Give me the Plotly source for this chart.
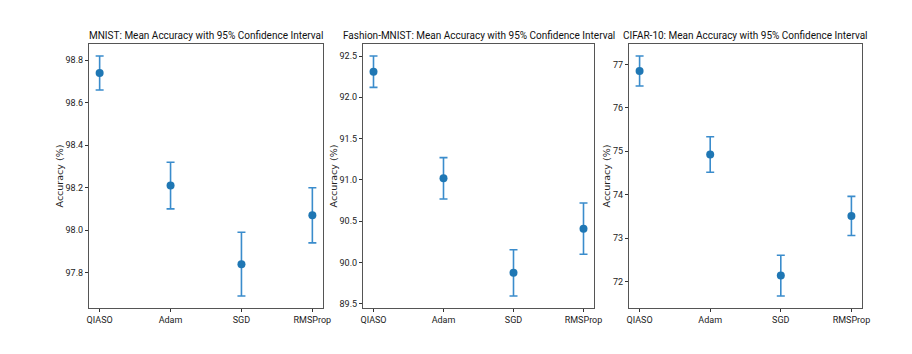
import plotly.graph_objects as go
from plotly.subplots import make_subplots

optimizers = ['QIASO', 'Adam', 'SGD', 'RMSProp']

datasets = ['MNIST', 'Fashion-MNIST', 'CIFAR-10']

# mean accuracy and half width of the 95% CI
mnist_mean = [98.74, 98.21, 97.84, 98.07]
mnist_ci = [0.08, 0.11, 0.15, 0.13]

fashion_mean = [92.31, 91.02, 89.875, 90.41]
fashion_ci = [0.19, 0.25, 0.28, 0.31]

cifar_mean = [76.85, 74.925, 72.135, 73.51]
cifar_ci = [0.345, 0.41, 0.47, 0.45]

means = [mnist_mean, fashion_mean, cifar_mean]
cis = [mnist_ci, fashion_ci, cifar_ci]
y_ticks = [
    [97.8, 98.0, 98.2, 98.4, 98.6, 98.8],
    [89.5, 90.0, 90.5, 91.0, 91.5, 92.0, 92.5],
    [72, 73, 74, 75, 76, 77],
]

W, H = 912, 354
off = 8  # page body margin
x_dom = [(89, 323), (363, 594), (629, 862)]
y_top, y_bot = 44, 308

font = "Roboto, sans-serif"
dark = '#333333'

fig = make_subplots(rows=1, cols=3)

for i in range(3):
    m = means[i]
    c = cis[i]
    fig.add_trace(go.Scatter(
        x=list(range(len(optimizers))), y=m,
        mode='markers',
        marker=dict(color='#1f77b4', size=8),
        error_y=dict(type='data', array=c, visible=True,
                     color='#3a8ccc', thickness=1.6, width=4),
        showlegend=False,
    ), row=1, col=i + 1)

    lo = min(a - b for a, b in zip(m, c))
    hi = max(a + b for a, b in zip(m, c))
    pad = (hi - lo) * 0.05

    x0, x1 = x_dom[i][0] - off, x_dom[i][1] - off
    ax = '' if i == 0 else str(i + 1)
    fig.layout['xaxis' + ax].update(
        domain=[x0 / W, x1 / W], range=[-0.15, 3.15], automargin=False,
        tickvals=list(range(4)), ticktext=optimizers,
        ticks='outside', ticklen=3, tickcolor=dark,
        showgrid=False, zeroline=False,
        showline=True, mirror=True, linecolor='#555555', linewidth=1.2,
        tickfont=dict(family=font, size=9, color='#222222'),
    )
    fig.layout['yaxis' + ax].update(
        domain=[1 - (y_bot - off) / H, 1 - (y_top - off) / H],
        range=[lo - pad, hi + pad],
        automargin=False,
        tickvals=y_ticks[i], ticktext=[str(v) for v in y_ticks[i]],
        ticks='outside', ticklen=3, tickcolor=dark,
        showgrid=False, zeroline=False,
        showline=True, mirror=True, linecolor='#555555', linewidth=1.2,
        tickfont=dict(family=font, size=9, color='#222222'),
        title=dict(text='Accuracy (%)', standoff=0,
                   font=dict(family='DejaVu Sans', size=9.5, color='#222222')),
    )
    fig.add_annotation(
        x=(x0 + x1) / 2 / W, y=1 - (35 - off) / H, xref='paper', yref='paper',
        text=datasets[i] + ': Mean Accuracy with 95% Confidence Interval',
        showarrow=False, xanchor='center', yanchor='middle',
        font=dict(family=font, size=10, color='#111111'),
    )

fig.update_layout(
    width=W, height=H,
    margin=dict(l=0, r=0, t=0, b=0),
    plot_bgcolor='white', paper_bgcolor='white',
)

fig.write_html("out.html")
